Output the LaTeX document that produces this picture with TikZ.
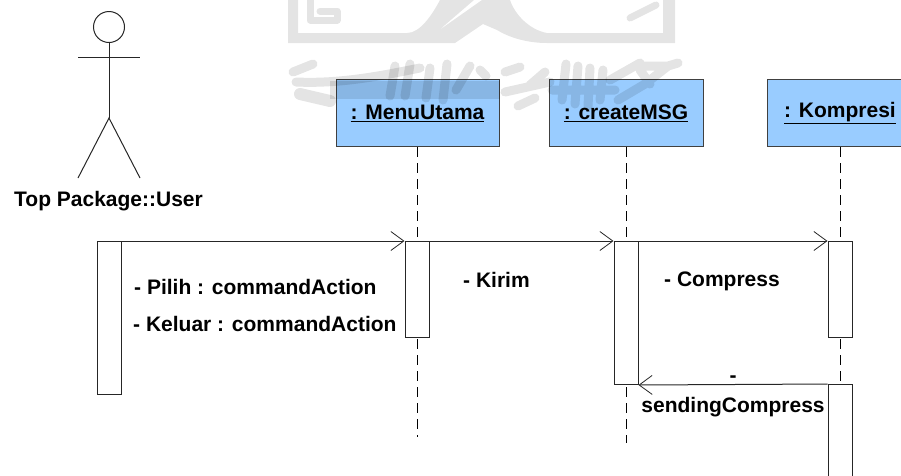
\documentclass[tikz,border=0pt]{standalone}
\usepackage{fontspec}
\setmainfont{Liberation Sans}
\usetikzlibrary{arrows.meta}

\begin{document}
\begin{tikzpicture}[
  x=1pt, y=-1pt,
  every node/.style={
    font=\fontsize{21}{24}\selectfont\bfseries, inner sep=0pt,
  },
  objbox/.style={
    draw=black!75, fill=objblue, line width=1pt, minimum height=67pt, anchor=north,
  },
  bar/.style={
    draw=black!85, fill=white, line width=1pt, minimum width=24pt, anchor=north,
  },
  lifeline/.style={
    draw=black, line width=1pt, dash pattern=on 10pt off 6pt,
  },
  msg/.style={
    draw=black!85, line width=1pt, -{Straight Barb[length=13pt,width=19pt,line width=.8pt]},
  },
  limb/.style={
    draw=black!85, line width=1pt,
  },
  wmark/.style={
    draw=markgrey, line width=9pt, line cap=round, line join=round,
  }
  ]
  \definecolor{objblue}{HTML}{99CCFF}
  \definecolor{markgrey}{HTML}{E4E4E4}
  \useasboundingbox (0,0) rectangle (901,475);
  \clip (0,0) rectangle (901,475);

  % objects
  \node[objbox, minimum width=163pt] (menu) at (417.5,79) {\underline{: MenuUtama}};
  \node[objbox, minimum width=154pt] (create) at (626,79) {\underline{: createMSG}};
  \node[objbox, minimum width=146pt] (kompresi) at (840,79) {\underline{: Kompresi}};

  % watermark
  \begin{scope}[blend mode=multiply]
    \fill[markgrey] (288,0) -- (288,43) -- (455,43) -- (483,24) -- (497,30)
      .. controls (510,38) and (528,43) .. (547,43) -- (675,43) -- (675,0) -- (663,0)
      -- (663,33) -- (547,33) .. controls (530,30) and (515,15) .. (510,0)
      -- (482,0) -- (438,31) -- (474,0)
      -- (440,0) .. controls (432,15) and (420,33) .. (407,33) -- (298,33) -- (298,0) -- cycle;
    \draw[wmark, line width=7pt] (310,0) -- (310,20) -- (337,20) -- (337,11) -- (320,11);
    \draw[wmark, line width=7pt] (630,18) -- (656,5);
    \draw[wmark] (293,72) -- (313,64);
    \draw[wmark] (296,82) .. controls (340,84) and (380,76) .. (420,68);
    \draw[wmark, line width=12pt] (300,94) -- (330,101);
    \draw[wmark, line width=18pt, line cap=butt] (330,90) -- (500,90);
    \draw[wmark] (395,66) -- (390,96) (410,64) -- (405,96) (430,68) -- (426,98)
      (447,64) -- (443,100) (470,66) -- (456,90);
    \draw[wmark] (480,70) -- (486,76) (505,72) -- (520,67) (530,85) -- (545,72)
      (505,92) -- (550,82) (518,106) -- (535,98);
    \draw[wmark] (566,64) -- (562,100) (578,66) -- (575,104) (590,68) -- (588,106)
      (603,70) -- (600,100) (552,90) -- (615,90);
    \draw[wmark] (610,80) -- (640,63) (618,100) -- (645,84) -- (668,66) -- (678,63)
      (645,66) -- (668,66) (640,70) -- (650,84);
  \end{scope}

  % actor
  \node[circle, draw=black!85, line width=1pt, minimum size=31pt] (head) at (109,27) {};
  \coordinate (hip) at (109,118);
  \coordinate (hand1) at (78,57);
  \coordinate (hand2) at (140,57);
  \coordinate (foot1) at (78,178);
  \coordinate (foot2) at (140,178);
  \draw[limb] (head) -- (hip);
  \draw[limb] (hand1) -- (hand2);
  \draw[limb] (foot1) -- (hip) -- (foot2);
  \node (user) at (108.5,201) {Top Package::User};

  % lifelines
  \coordinate (menuend) at (417.5,437);
  \coordinate (createend) at (626,443);
  \coordinate (kompresiend) at (840,384);
  \draw[lifeline] (menu.south) -- (menuend);
  \draw[lifeline] (create.south) -- (createend);
  \draw[lifeline] (kompresi.south) -- (kompresiend);

  % activations
  \node[bar, minimum height=153pt] (baruser) at (109,241) {};
  \node[bar, minimum height=96pt] (barmenu) at (417,241) {};
  \node[bar, minimum height=143pt] (barcreate) at (626,241) {};
  \node[bar, minimum height=96pt] (barkomp) at (840,241) {};
  \node[bar, minimum height=110pt] (barkomptwo) at (840,384) {};

  % messages
  \draw[msg] (baruser.north east) -- (barmenu.north west);
  \draw[msg] (barmenu.north east) -- (barcreate.north west);
  \draw[msg] (barcreate.north east) -- (barkomp.north west);
  \draw[msg] (barkomptwo.north west) -- (barcreate.south east);

  \node[anchor=west] (pilih) at (134,287) {- Pilih : commandAction};
  \node[anchor=west] (keluar) at (133,324) {- Keluar : commandAction};
  \node[anchor=west] (kirim) at (463,280) {- Kirim};
  \node[anchor=west] (compress) at (664,281) {- Compress};
  \node (dash) at (733,379) {-};
  \node (sending) at (733,407) {sendingCompress};
\end{tikzpicture}
\end{document}
